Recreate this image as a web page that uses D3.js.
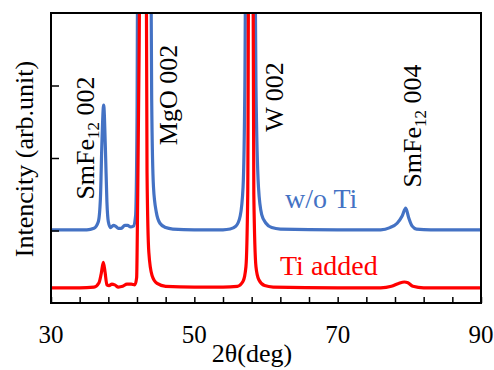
<!DOCTYPE html>
<html>
<head>
<meta charset="utf-8">
<script src="https://cdn.jsdelivr.net/npm/d3@7"></script>
<style>
  body { margin: 0; background: #fff; }
</style>
</head>
<body>
<svg id="svg" width="494" height="370"></svg>
<script>
// w/o Ti  (2theta, intensity)
const blueTheta = [30, 33, 35, 36, 36.6, 36.9, 37.1, 37.35, 37.6, 37.8, 38.0, 38.3, 38.7, 39.0, 39.4, 39.8,
  40.3, 40.7, 41.1, 41.5, 41.8, 42.0, 42.15, 43.85, 44.05, 44.3, 44.7, 45.2, 46, 47, 50, 54, 55.0, 55.8,
  56.4, 56.8, 57.05, 57.25, 58.35, 58.6, 58.95, 59.4, 60.0, 60.8, 62, 70, 76, 77.3, 78.3, 79.0, 79.5,
  79.9, 80.4, 81, 83, 90];
const blueInt = [1.01, 1.01, 1.01, 1.03, 1.12, 1.45, 2.2, 2.73, 2.1, 1.4, 1.12, 1.04, 1.07, 1.06, 1.03, 1.03,
  1.07, 1.07, 1.05, 1.06, 1.2, 2.5, 6, 6, 2.8, 1.6, 1.25, 1.1, 1.04, 1.02, 1.01, 1.01, 1.02, 1.06,
  1.2, 1.6, 3, 6, 6, 3, 1.6, 1.22, 1.1, 1.04, 1.02, 1.01, 1.01, 1.04, 1.1, 1.2, 1.31,
  1.18, 1.06, 1.02, 1.01, 1.01];

// Ti added
const redTheta = [30, 34, 36, 36.7, 37.0, 37.3, 37.55, 37.8, 38.1, 38.5, 38.9, 39.4, 40, 40.6, 41.2, 41.7,
  41.95, 42.1, 42.3, 42.55, 43.2, 43.4, 43.65, 44.1, 44.8, 46, 50, 54, 56, 56.8, 57.2, 57.45, 57.65,
  58.1, 58.3, 58.6, 59.0, 59.8, 61, 70, 76, 77.5, 78.5, 79.3, 79.8, 80.5, 82, 90];
const redInt = [0.21, 0.21, 0.22, 0.28, 0.4, 0.56, 0.42, 0.25, 0.24, 0.26, 0.25, 0.22, 0.23, 0.26, 0.26, 0.25,
  0.35, 1.5, 3.5, 7, 7, 1.8, 0.7, 0.38, 0.27, 0.23, 0.22, 0.22, 0.23, 0.3, 0.5, 1.5, 7,
  7, 1.5, 0.5, 0.32, 0.24, 0.22, 0.21, 0.21, 0.23, 0.27, 0.29, 0.28, 0.23, 0.21, 0.21];

const xTicks = d3.range(30, 91, 4);
const xLabels = [30, 50, 70, 90];
const yTicks = [1, 2, 3];

const serif = 'Liberation Serif';

const margin = { top: 13, right: 13, bottom: 67, left: 51 };
const width = 494 - margin.left - margin.right;
const height = 370 - margin.top - margin.bottom;

const svg = d3.select('#svg');
const g = svg.append('g').attr('transform', 'translate(' + margin.left + ',' + margin.top + ')');

const x = d3.scaleLinear().domain([30, 90]).range([0, width]);
const y = d3.scaleLinear().domain([0, 4]).range([height, 0]);

g.append('clipPath').attr('id', 'clip')
  .append('rect').attr('width', width).attr('height', height);

const line = d3.line()
  .x(d => x(d[0]))
  .y(d => y(d[1]))
  .curve(d3.curveMonotoneX);

const series = [
  { theta: blueTheta, val: blueInt, color: '#4472C4' },
  { theta: redTheta, val: redInt, color: '#FF0000' },
];

series.forEach(s => {
  g.append('path')
    .datum(s.theta.map((t, i) => [t, s.val[i]]))
    .attr('clip-path', 'url(#clip)')
    .attr('fill', 'none')
    .attr('stroke', s.color)
    .attr('stroke-width', 3.2)
    .attr('stroke-linejoin', 'round')
    .attr('d', line);
});

// axes (ticks inward, no y labels)
const xAxis = d3.axisBottom(x).tickValues(xTicks).tickSizeInner(-6).tickSizeOuter(0).tickFormat('');
g.append('g').attr('transform', 'translate(0,' + height + ')').call(xAxis)
  .call(a => a.select('.domain').remove())
  .selectAll('line').attr('stroke', '#000').attr('stroke-width', 1.5);

const yAxis = d3.axisLeft(y).tickValues(yTicks).tickSizeInner(-8).tickSizeOuter(0).tickFormat('');
g.append('g').call(yAxis)
  .call(a => a.select('.domain').remove())
  .selectAll('line').attr('stroke', '#000').attr('stroke-width', 1.5);

g.append('rect')
  .attr('width', width).attr('height', height)
  .attr('fill', 'none').attr('stroke', '#000').attr('stroke-width', 2);

g.selectAll('.xlab').data(xLabels).join('text')
  .attr('x', d => x(d)).attr('y', height + 40)
  .style('font-family', serif)
  .attr('text-anchor', 'middle').attr('font-size', 25).text(d => d);

svg.append('text')
  .attr('x', 252).attr('y', 362).attr('text-anchor', 'middle').attr('font-size', 26)
  .style('font-family', serif)
  .text('2θ(deg)');

svg.append('text')
  .attr('transform', 'translate(33,159) rotate(-90)')
  .attr('text-anchor', 'middle').attr('font-size', 26)
  .style('font-family', serif)
  .text('Intencity (arb.unit)');

// peak labels
const peaks = [
  { pos: [94, 138], main: 'SmFe', sub: '12', tail: ' 002' },
  { pos: [177, 95], main: 'MgO 002' },
  { pos: [283, 97], main: 'W 002' },
  { pos: [421, 126], main: 'SmFe', sub: '12', tail: ' 004' },
];
peaks.forEach(p => {
  const t = svg.append('text')
    .attr('transform', 'translate(' + p.pos[0] + ',' + p.pos[1] + ') rotate(-90)')
    .style('font-family', serif)
    .attr('text-anchor', 'middle').attr('font-size', 26);
  t.append('tspan').text(p.main);
  if (p.sub) {
    t.append('tspan').attr('font-size', 17).attr('dy', 5).text(p.sub);
    t.append('tspan').attr('dy', -5).text(p.tail);
  }
});

svg.append('text').attr('x', 285).attr('y', 208).attr('font-size', 28)
  .style('font-family', serif)
  .attr('fill', '#4472C4').text('w/o Ti');
svg.append('text').attr('x', 280).attr('y', 275).attr('font-size', 28)
  .style('font-family', serif)
  .attr('fill', '#FF0000').text('Ti added');
</script>
</body>
</html>
